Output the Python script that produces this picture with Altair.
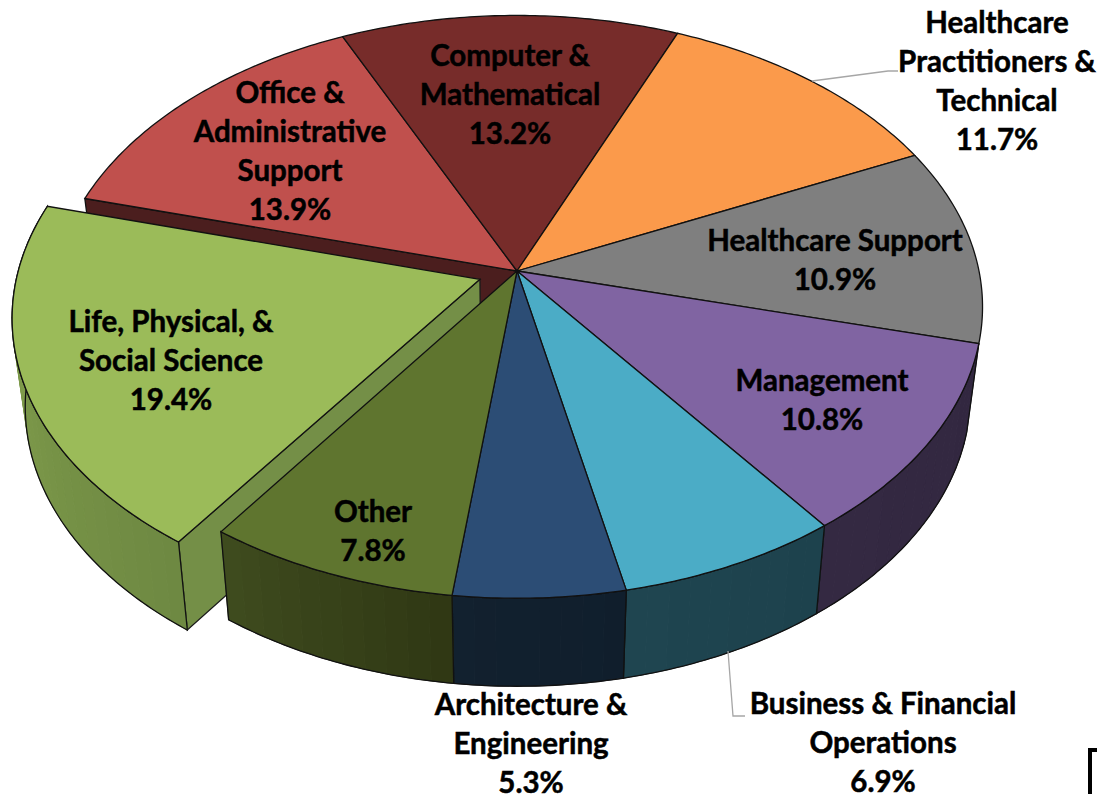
import math
import altair as alt

# ---- chart values ----
CATEGORIES = ["Computer & Mathematical", "Healthcare Practitioners & Technical", "Healthcare Support",
              "Management", "Business & Financial Operations", "Architecture & Engineering",
              "Other", "Life, Physical, & Social Science", "Office & Administrative Support"]
VALUES = [13.2, 11.7, 10.9, 10.8, 6.9, 5.3, 7.8, 19.4, 13.9]
LABEL_LINES = [["Computer &", "Mathematical"], ["Healthcare", "Practitioners &", "Technical"],
               ["Healthcare Support"], ["Management"], ["Business & Financial", "Operations"],
               ["Architecture &", "Engineering"], ["Other"], ["Life, Physical, &", "Social Science"],
               ["Office &", "Administrative", "Support"]]
TOP_COLORS = ["#772C2A", "#FB9A4B", "#7F7F7F", "#8064A2", "#4BACC6", "#2C4D75", "#5F752F", "#9BBB59", "#C0504D"]
WALL_LEFT = ["#4B1E1E", "#7a4a20", "#444444", "#342942", "#1F4550", "#12212F", "#3F4C1F", "#86A34F", "#4B1E1E"]
WALL_RIGHT = ["#4B1E1E", "#7a4a20", "#444444", "#322740", "#1D424D", "#101E2C", "#2F3713", "#6E8942", "#4B1E1E"]
INNER_WALL = "#748F47"
EXPLODED = "Life, Physical, & Social Science"
BACK_OF_PIE = ["Office & Administrative Support", "Computer & Mathematical",
               "Healthcare Practitioners & Technical", "Healthcare Support"]

# ---- layout / projection of the pie (style, not data) ----
OX, OY = 517, 271       # screen position of the pie centre
RX, RY, K = 462, 287, 0.123
START = -24.8           # degrees clockwise from the far side
DEPTH, SHRINK = 88, 0.974
EXPLODE = 0.085
MARGIN = 8
W, H = 1089, 786


def project(px, py):
    w = 1 + K * py
    return OX + RX * px / w, OY - RY * py / w


def down(p):
    return OX + (p[0] - OX) * SHRINK, p[1] + DEPTH


def s(p):
    return [round(p[0] - MARGIN, 2), round(p[1] - MARGIN, 2)]


def hexrgb(c):
    return [int(c[i:i + 2], 16) for i in (1, 3, 5)]


def mix(a, b, t):
    ra, rb = hexrgb(a), hexrgb(b)
    return "#%02x%02x%02x" % tuple(round(x + (y - x) * t) for x, y in zip(ra, rb))


def feat(points, fill, stroke, width=1.3):
    return {"type": "Feature",
            "geometry": {"type": "Polygon", "coordinates": [[s(p) for p in points] + [s(points[0])]]},
            "properties": {"fill": fill, "stroke": stroke, "sw": width}}


def line(points, stroke, width):
    return {"type": "Feature",
            "geometry": {"type": "LineString", "coordinates": [s(p) for p in points]},
            "properties": {"fill": "transparent", "stroke": stroke, "sw": width}}


def slice_features(i, a0, a1):
    mid = math.radians((a0 + a1) / 2)
    d = EXPLODE if CATEGORIES[i] == EXPLODED else 0
    ox, oy = d * math.sin(mid), d * math.cos(mid)

    def pt(angle):
        r = math.radians(angle)
        return project(ox + math.sin(r), oy + math.cos(r))

    def rim_of(step):
        n = max(2, round((a1 - a0) / step))
        return [pt(a0 + (a1 - a0) * j / n) for j in range(n + 1)]

    apex = project(ox, oy)
    rim = rim_of(0.7)
    out = []
    # inner wall facing the viewer
    if CATEGORIES[i] == EXPLODED:
        out.append(feat([apex, rim[0], down(rim[0]), down(apex)], INNER_WALL, "#1a1a1a"))
    elif CATEGORIES[i] == CATEGORIES[-1]:
        out.append(feat([apex, rim[0], down(rim[0]), down(apex)], WALL_LEFT[i], "#111111"))
    # outer wall in shaded strips (angles run right to left here), then its outline
    if CATEGORIES[i] not in BACK_OF_PIE:
        coarse = rim_of(2.5)
        n = len(coarse) - 1
        for j in range(n):
            c = mix(WALL_RIGHT[i], WALL_LEFT[i], (j + 0.5) / n)
            out.append(feat([coarse[j], coarse[j + 1], down(coarse[j + 1]), down(coarse[j])], c, c, 1))
        out.append(feat(rim + [down(p) for p in reversed(rim)], "transparent", "#111111"))
    # top face
    out.append(feat([apex] + rim, TOP_COLORS[i], "#111111"))
    return out


# cumulative boundaries (the published shares add up to 99.9)
total = sum(VALUES)
bounds = [START]
for v in VALUES:
    bounds.append(bounds[-1] + v / total * 360)

# back-to-front: far slices, the exploded slice, then near slices
draw_order = [8, 0, 1, 2, 3, 7, 4, 5, 6]
features = []
for i in draw_order:
    features += slice_features(i, bounds[i], bounds[i + 1])

# leader lines and the page-corner fragment
features.append(line([(812, 81), (888, 71), (898, 71)], "#A6A6A6", 1.3))
features.append(line([(728, 651), (733, 716), (745, 716)], "#A6A6A6", 1.3))
features.append(line([(1090, 802), (1090, 750), (1105, 750)], "#000000", 4))

shapes = alt.Chart(alt.Data(values=features)).mark_geoshape().encode(
    fill=alt.Fill("properties.fill:N", scale=None),
    stroke=alt.Stroke("properties.stroke:N", scale=None),
    strokeWidth=alt.StrokeWidth("properties.sw:Q", scale=None),
).project(type="identity", scale=1, translate=[0, 0])

# centre of each label's first line on the page
LABEL_X = [510, 997, 835, 822, 883, 531, 373, 171, 290]
LABEL_Y = [57, 24, 242, 382, 705, 706, 513, 323, 94]

layers = [shapes]
for i in range(len(VALUES)):
    text_lines = LABEL_LINES[i] + [f"{VALUES[i]:.1f}%"]
    layers.append(
        alt.Chart(alt.Data(values=[{"t": text_lines}])).mark_text(
            font="Lato", fontWeight="bold", fontSize=29.5, color="#000000",
            stroke="#000000", strokeWidth=0.5,
            align="center", baseline="middle", lineHeight=39,
        ).encode(
            text="t:N",
            x=alt.value(LABEL_X[i] - MARGIN),
            y=alt.value(LABEL_Y[i] - MARGIN),
        )
    )

chart = alt.layer(*layers).properties(
    width=W, height=H, padding=0, autosize=alt.AutoSizeParams(type="none"),
    background="#FFFFFF",
).configure_view(stroke=None, clip=False)

chart.save("out.html", embed_options={"renderer": "svg", "actions": False})
